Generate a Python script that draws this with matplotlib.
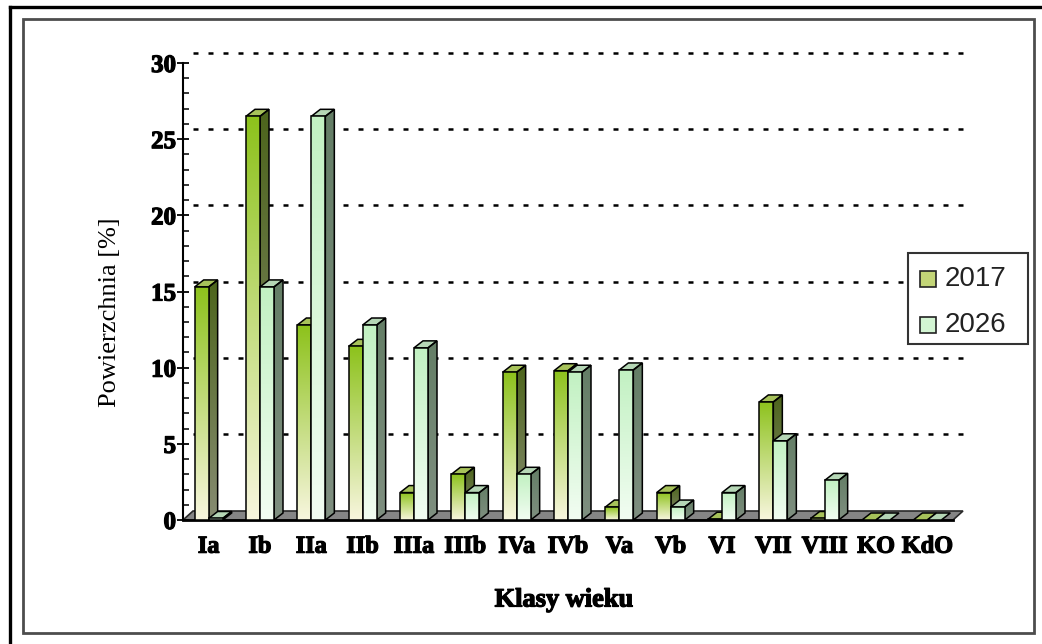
import numpy as np
import matplotlib
matplotlib.use("Agg")
import matplotlib.pyplot as plt
import matplotlib.patheffects as pe
from matplotlib.patches import Polygon, Rectangle
from matplotlib.lines import Line2D
from matplotlib.colors import to_rgb

# ---- data ----
categories = ["Ia", "Ib", "IIa", "IIb", "IIIa", "IIIb", "IVa", "IVb", "Va", "Vb",
              "VI", "VII", "VIII", "KO", "KdO"]
values_2017 = [15.3, 26.5, 12.8, 11.4, 1.8, 3.0, 9.7, 9.8, 0.85, 1.8, 0.05, 7.75, 0.1, 0.0, 0.0]
values_2026 = [0.1, 15.3, 26.5, 12.8, 11.3, 1.8, 3.0, 9.7, 9.85, 0.85, 1.8, 5.2, 2.6, 0.0, 0.0]
series_names = ["2017", "2026"]
yticks = [0, 5, 10, 15, 20, 25, 30]

plt.rcParams["lines.scale_dashes"] = False

W, H = 1042, 644
fig = plt.figure(figsize=(W / 100, H / 100), dpi=100)

def fx(x):
    return x / W

def fy(y):
    return 1 - y / H

heavy = [pe.withStroke(linewidth=0.9, foreground="black")]

# axes placement (pixels): x 183..953, y 520..63
ax = fig.add_axes([fx(183), fy(520), (953 - 183) / W, (520 - 63) / H])
XMIN, XMAX, YMIN, YMAX = -0.5, 14.5, 0, 30
px_per_x = (953 - 183) / (XMAX - XMIN)
px_per_y = (520 - 63) / (YMAX - YMIN)

bar_w = 14 / px_per_x
bdx, bdy = 9 / px_per_x, 7 / px_per_y      # bar depth
gdx, gdy = 10 / px_per_x, 10 / px_per_y    # back wall offset

styles = {
    "2017": dict(front=("#8dc21c", "#f8f6de"), side=("#4d651c", "#878c72"), top="#a7c25a"),
    "2026": dict(front=("#c2f1c2", "#f2fdf2"), side=("#647e66", "#7f8f80"), top="#b5d6b5"),
}

def grad_poly(verts, c_top, c_bot, z):
    verts = np.asarray(verts)
    poly = Polygon(verts, closed=True, facecolor="none", edgecolor="black",
                   lw=1.1, zorder=z + 0.05)
    ax.add_patch(poly)
    y0, y1 = verts[:, 1].min(), verts[:, 1].max()
    x0, x1 = verts[:, 0].min(), verts[:, 0].max()
    if y1 - y0 <= 1e-6:
        return
    t = np.linspace(0, 1, 128)[:, None]
    ct, cb = np.array(to_rgb(c_top)), np.array(to_rgb(c_bot))
    arr = (ct[None, None, :] * (1 - t[:, :, None]) + cb[None, None, :] * t[:, :, None])
    im = ax.imshow(arr, extent=(x0, x1, y0, y1), origin="upper", aspect="auto",
                   interpolation="bilinear", zorder=z)
    im.set_clip_path(poly)

def draw_bar(x0, h, st, z):
    x1 = x0 + bar_w
    top = Polygon([(x0, h), (x0 + bdx, h + bdy), (x1 + bdx, h + bdy), (x1, h)],
                  closed=True, facecolor=st["top"], edgecolor="black", lw=1.1, zorder=z + 0.05)
    ax.add_patch(top)
    if h > 0:
        grad_poly([(x1, 0), (x1 + bdx, bdy), (x1 + bdx, h + bdy), (x1, h)],
                  st["side"][0], st["side"][1], z)
        grad_poly([(x0, 0), (x1, 0), (x1, h), (x0, h)], st["front"][0], st["front"][1], z + 0.1)

# floor
floor = Polygon([(XMIN, 0), (XMAX, 0), (XMAX + gdx, gdy * 0.9), (XMIN + gdx, gdy * 0.9)],
                closed=True, facecolor="#858585", edgecolor="#2a2a2a", lw=1.2,
                zorder=1, clip_on=False)
ax.add_patch(floor)
ax.plot([XMIN, XMAX], [0, 0], color="black", lw=2, zorder=1.2, clip_on=False)

# gridlines on back wall
for v in yticks[1:]:
    ax.add_line(Line2D([XMIN + gdx, XMAX + gdx], [v + gdy, v + gdy], color="black",
                       lw=1.8, linestyle=(0, (3.6, 7.2)), zorder=0.5, clip_on=False))

# bars
for i, cat in enumerate(categories):
    draw_bar(i - bar_w, values_2017[i], styles["2017"], 2 + i * 0.01)
    draw_bar(i, values_2026[i], styles["2026"], 3 + i * 0.01)

ax.set_xlim(XMIN, XMAX)
ax.set_ylim(YMIN, YMAX)
for s in ["top", "right", "bottom"]:
    ax.spines[s].set_visible(False)
ax.spines["left"].set_linewidth(1.5)
ax.patch.set_alpha(0)

ax.set_xticks(range(len(categories)))
ax.set_xticklabels(categories, fontsize=17.5, fontweight="bold", family="Liberation Serif")
ax.tick_params(axis="x", length=0, pad=12)
ax.set_yticks(yticks)
ax.set_yticklabels([str(v) for v in yticks], fontsize=18, fontweight="bold",
                   family="Liberation Serif")
for lab in ax.get_xticklabels() + ax.get_yticklabels():
    lab.set_path_effects(heavy)
ax.set_yticks(np.arange(0, 31, 1), minor=True)
ax.tick_params(axis="y", which="major", direction="inout", length=8, width=1.3, pad=1)
ax.tick_params(axis="y", which="minor", direction="in", length=4.5, width=1.1)

# axis titles
fig.text(fx(110), fy(312), "Powierzchnia [%]", rotation=90, ha="center", va="center",
         fontsize=19, family="Liberation Serif")
fig.text(fx(564), fy(600), "Klasy wieku", ha="center", va="center",
         fontsize=19, fontweight="bold", family="Liberation Serif", path_effects=heavy)

# legend (drawn manually)
fig.patches.append(Rectangle((fx(908), fy(344)), (1028 - 908) / W, (344 - 253) / H,
                             transform=fig.transFigure, facecolor="white",
                             edgecolor="#333333", lw=1.5, zorder=5))
leg_colors = {"2017": "#c3d577", "2026": "#d3f5d3"}
for name, yc in zip(series_names, [279, 325]):
    fig.patches.append(Rectangle((fx(920), fy(yc + 8)), 16 / W, 16 / H,
                                 transform=fig.transFigure, facecolor=leg_colors[name],
                                 edgecolor="#222222", lw=1.2, zorder=6))
    fig.text(fx(945), fy(yc), name, ha="left", va="center", fontsize=20,
             family="Liberation Sans", color="#222222", zorder=6)

# frames
fig.add_artist(Line2D([fx(10), fx(10)], [fy(7), fy(644)], transform=fig.transFigure,
                      color="black", lw=2.4))
fig.add_artist(Line2D([fx(10), fx(1042)], [fy(7), fy(7)], transform=fig.transFigure,
                      color="black", lw=2.4))
fig.patches.append(Rectangle((fx(23), fy(633)), (1034 - 23) / W, (633 - 19) / H,
                             transform=fig.transFigure, facecolor="none",
                             edgecolor="#4d4d4d", lw=2.0))

fig.savefig("out.png", dpi=100)
